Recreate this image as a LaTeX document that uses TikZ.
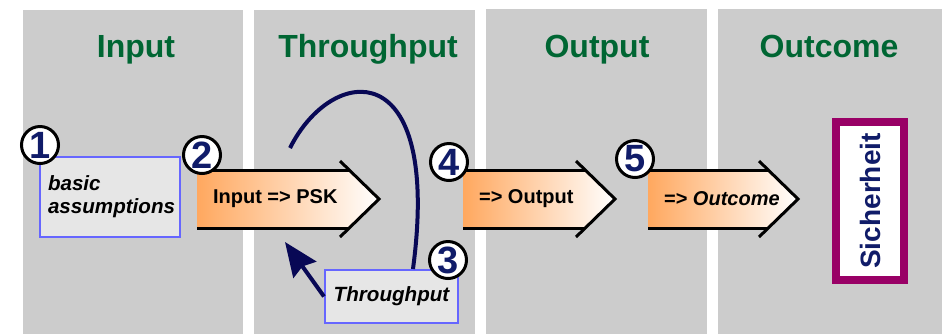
\documentclass[tikz,border=0pt]{standalone}
\usepackage{fontspec}
\setmainfont{Liberation Sans}
\usetikzlibrary{arrows.meta}

\definecolor{panelgray}{RGB}{204,204,204}
\definecolor{headgreen}{RGB}{0,102,51}
\definecolor{numnavy}{RGB}{16,28,105}
\definecolor{loopnavy}{RGB}{8,8,85}
\definecolor{boxblue}{RGB}{102,102,255}
\definecolor{boxfill}{RGB}{230,230,230}
\definecolor{flowor}{RGB}{255,168,95}
\definecolor{safepurple}{RGB}{153,0,102}

\tikzset{
  panel/.style={fill=panelgray,draw=none},
  heading/.style={anchor=base,font=\fontsize{16}{18}\selectfont\bfseries,text=headgreen},
  numcircle/.style={circle,draw=black,line width=1.5pt,fill=white,minimum size=18.5pt,inner sep=0pt,
    font=\fontsize{19}{19}\selectfont\bfseries,text=numnavy},
  infobox/.style={rectangle,draw=boxblue,line width=1pt,fill=boxfill,
    font=\fontsize{10.3}{11.5}\selectfont\bfseries\itshape},
  flowtext/.style={anchor=west,font=\fontsize{10}{12}\selectfont\bfseries},
  flowedge/.style={draw=black,line width=1.5pt},
  loopline/.style={draw=loopnavy,line width=2pt},
}

\begin{document}
\begin{tikzpicture}[x=0.5pt,y=-0.5pt]
\useasboundingbox (0,0) rectangle (942,334);

% columns
\fill[panel] (23,10) rectangle (243,334);
\fill[panel] (254,10) rectangle (475,334);
\fill[panel] (486,9) rectangle (707,334);
\fill[panel] (718,9) rectangle (942,334);

\node[heading] (h-in) at (136,57) {Input};
\node[heading] (h-thr) at (368,57) {Throughput};
\node[heading] (h-out) at (597,57) {Output};
\node[heading] (h-oc) at (829,57) {Outcome};

% flow arrows
\foreach \l/\r/\t/\nm in {197/349/{Input => PSK}/psk,463/585/{=> Output}/outp,648/768/{=> \textit{Outcome}}/outc}{
  \shade[left color=flowor,right color=white] (\l,170) -- (\r,170) -- ({\r+30},199) -- (\r,228) -- (\l,228) -- cycle;
  \draw[flowedge] (\l,170) -- (\r,170);
  \draw[flowedge] (\l,228) -- (\r,228);
  \draw[flowedge] ({\r-9},161) -- ({\r+30},199) -- ({\r-9},237);
  \node[flowtext] (\nm) at ({\l+9},199) {\t};
}

% boxes
\node[infobox,minimum width=70pt,minimum height=40pt,text width=62pt,align=left] (ba) at (110,197) {basic\\assumptions};
\node[infobox,minimum width=66.5pt,minimum height=26.5pt] (tp) at (391.5,296.5) {Throughput};

\node[rectangle,draw=safepurple,line width=4pt,fill=white,minimum width=34pt,minimum height=79pt] (sh) at (870,201) {};
\node[rotate=90,font=\fontsize{14}{16}\selectfont\bfseries,text=numnavy] (sh-t) at (sh.center) {Sicherheit};

% feedback loop
\coordinate (loopstart) at (290,148);
\coordinate (fbtip) at (285,242);
\draw[loopline] (loopstart) .. controls (332,64) and (442,52) .. (tp.52);
\draw[loopline,-{Stealth[length=17pt,width=14pt,inset=2pt]}] (tp.west) -- (fbtip);

% numbers
\node[numcircle] (n1) at (40,145) {1};
\node[numcircle] (n2) at (202,155) {2};
\node[numcircle] (n3) at (448,260) {3};
\node[numcircle] (n4) at (449,162) {4};
\node[numcircle] (n5) at (635,159) {5};

\end{tikzpicture}
\end{document}
